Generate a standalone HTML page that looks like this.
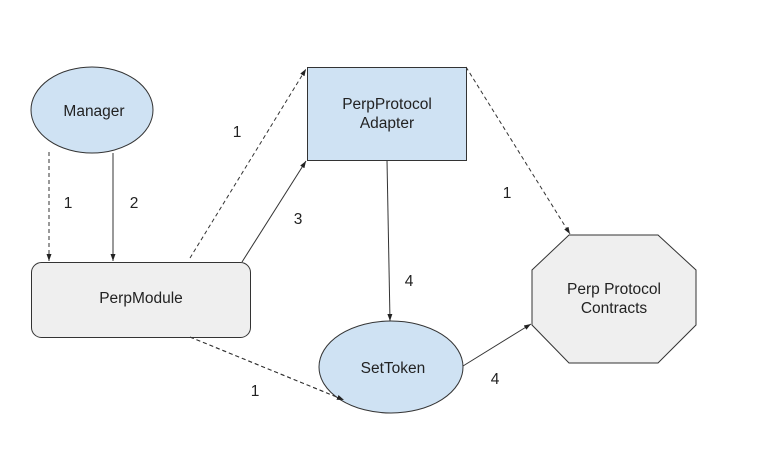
<!DOCTYPE html>
<html><head><style>body{margin:0;background:#fff}svg{display:block}text{font-family:"Liberation Sans",Arial,sans-serif;font-size:15.5px;fill:#222}</style></head>
<body>
<svg width="757" height="449" viewBox="0 0 757 449" xmlns="http://www.w3.org/2000/svg">
<defs>
<marker id="a" markerWidth="8" markerHeight="8" refX="7" refY="4" orient="auto" markerUnits="userSpaceOnUse"><path d="M0,1.5 L7,4 L0,6.5 Z" fill="#222"/></marker>
</defs>
<g stroke="#333" stroke-width="1" fill="none">
<line x1="49" y1="152" x2="49" y2="261" stroke-dasharray="4,3" marker-end="url(#a)"/>
<line x1="113" y1="153" x2="113" y2="261" marker-end="url(#a)"/>
<line x1="190" y1="258" x2="306" y2="69" stroke-dasharray="4,3" marker-end="url(#a)"/>
<line x1="242" y1="262" x2="306" y2="161" marker-end="url(#a)"/>
<line x1="466" y1="67" x2="570" y2="234" stroke-dasharray="4,3" marker-end="url(#a)"/>
<line x1="387" y1="160" x2="390" y2="321" marker-end="url(#a)"/>
<line x1="463" y1="366" x2="531" y2="324" marker-end="url(#a)"/>
<line x1="190" y1="337" x2="344" y2="400" stroke-dasharray="4,3" marker-end="url(#a)"/>
</g>
<ellipse cx="92" cy="110" rx="61" ry="43" fill="#cfe2f3" stroke="#333"/>
<rect x="31.5" y="262.5" width="219" height="75" rx="10" fill="#efefef" stroke="#333"/>
<rect x="307.5" y="67.5" width="159" height="93" fill="#cfe2f3" stroke="#333"/>
<polygon points="569,235 658,235 696,270 696,325 658,363 569,363 532,325 532,270" fill="#efefef" stroke="#333"/>
<ellipse cx="391" cy="367" rx="72" ry="46" fill="#cfe2f3" stroke="#333"/>
<line x1="190" y1="337" x2="344" y2="400" stroke="#333" stroke-dasharray="4,3" marker-end="url(#a)"/>
<g text-anchor="middle">
<text x="94" y="116">Manager</text>
<text x="141" y="303">PerpModule</text>
<text x="387" y="109">PerpProtocol</text>
<text x="387" y="128">Adapter</text>
<text x="614" y="294">Perp Protocol</text>
<text x="614" y="313">Contracts</text>
<text x="393" y="373">SetToken</text>
<text x="68" y="208">1</text>
<text x="134" y="208">2</text>
<text x="237" y="137">1</text>
<text x="298" y="224">3</text>
<text x="507" y="198">1</text>
<text x="409" y="286">4</text>
<text x="495" y="384">4</text>
<text x="255" y="396">1</text>
</g>
</svg>
</body></html>
